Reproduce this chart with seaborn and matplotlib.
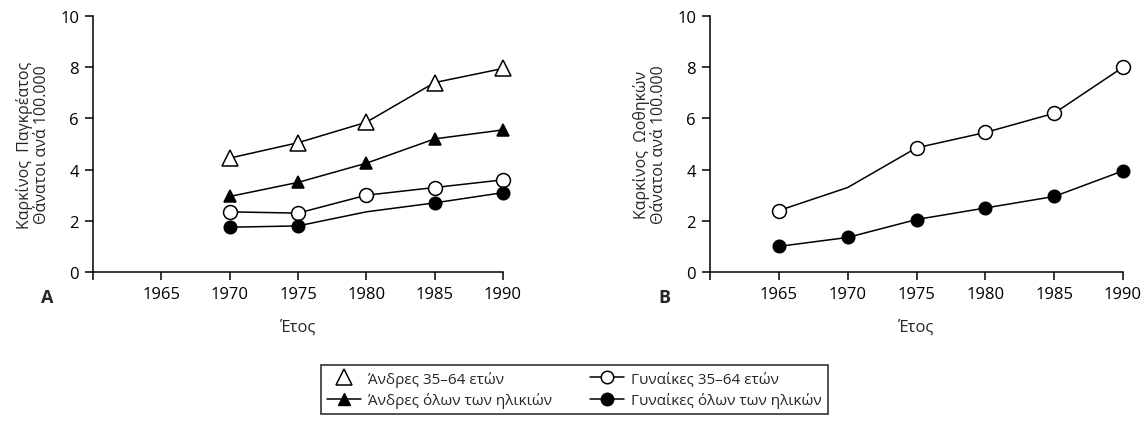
import matplotlib
matplotlib.use("Agg")
import matplotlib.pyplot as plt
from matplotlib.lines import Line2D
import seaborn as sns
import pandas as pd

# ---- data ----
years_a = [1970, 1975, 1980, 1985, 1990]
men_35_64_a = [4.45, 5.05, 5.85, 7.4, 7.95]
men_all_a = [2.95, 3.5, 4.25, 5.2, 5.55]
women_35_64_a = [2.35, 2.3, 3.0, 3.3, 3.6]
women_all_a = [1.75, 1.8, 2.35, 2.7, 3.1]

years_b = [1965, 1970, 1975, 1980, 1985, 1990]
women_35_64_b = [2.4, 3.3, 4.85, 5.45, 6.2, 8.0]
women_all_b = [1.0, 1.35, 2.05, 2.5, 2.95, 3.95]

xticks = [1960, 1965, 1970, 1975, 1980, 1985, 1990]
xticklabels = ["", "1965", "1970", "1975", "1980", "1985", "1990"]
yticks = [0, 2, 4, 6, 8, 10]

ylabel_a = "Καρκίνος  Παγκρέατος\nΘάνατοι ανά 100.000"
ylabel_b = "Καρκίνος  Ωοθηκών\nΘάνατοι ανά 100.000"
xlabel = "Έτος"
legend_labels = ["Άνδρες 35–64 ετών", "Άνδρες όλων των ηλικιών",
                 "Γυναίκες 35–64 ετών", "Γυναίκες όλων των ηλικών"]

sns.set_theme(style="ticks")
plt.rcParams['font.family'] = ['Open Sans', 'DejaVu Sans']

fig = plt.figure(figsize=(11.45, 4.27), dpi=100)
ax_a = fig.add_axes([93/1145, 1-273/427, 410/1145, 256/427])
ax_b = fig.add_axes([710/1145, 1-273/427, 413/1145, 256/427])

lw = 1.1
mew = 1.1

def draw(ax, x, y, marker, filled, ms, markevery=None):
    df = pd.DataFrame({"x": x, "y": y})
    kw = dict(color="black", linewidth=lw, marker=marker, markersize=ms,
              markerfacecolor="black" if filled else "white",
              markeredgecolor="black", markeredgewidth=mew)
    if markevery is not None:
        kw["markevery"] = markevery
    sns.lineplot(data=df, x="x", y="y", ax=ax, **kw)

draw(ax_a, years_a, men_35_64_a, "^", False, 11)
draw(ax_a, years_a, men_all_a, "^", True, 9)
draw(ax_a, years_a, women_35_64_a, "o", False, 10)
draw(ax_a, years_a, women_all_a, "o", True, 9, markevery=[0, 1, 3, 4])

draw(ax_b, years_b, women_35_64_b, "o", False, 10, markevery=[0, 2, 3, 4, 5])
draw(ax_b, years_b, women_all_b, "o", True, 9)

for ax, ylab in [(ax_a, ylabel_a), (ax_b, ylabel_b)]:
    ax.set_xlim(1960, 1990)
    ax.set_ylim(0, 10)
    ax.set_xticks(xticks)
    ax.set_xticklabels(xticklabels)
    ax.set_yticks(yticks)
    sns.despine(ax=ax)
    for s in ["left", "bottom"]:
        ax.spines[s].set_linewidth(1.1)
        ax.spines[s].set_color("black")
    ax.tick_params(axis="both", direction="out", length=6, width=1.1,
                   colors="black", labelsize=12, pad=4)
    ax.set_xlabel(xlabel, fontsize=12, labelpad=12)
    ax.set_ylabel(ylab, fontsize=11.5, linespacing=1.05)
    ax.yaxis.set_label_coords(-0.105, 0.5)
    for line in ax.lines:
        line.set_clip_on(False)

fig.text(47/1145, 1-298/427, "A", fontsize=13, fontweight="bold",
         ha="center", va="center")
fig.text(664/1145, 1-298/427, "B", fontsize=13, fontweight="bold",
         ha="center", va="center")

handles = [
    Line2D([], [], color="black", linestyle="none", marker="^", markersize=11,
           markerfacecolor="white", markeredgecolor="black", markeredgewidth=mew),
    Line2D([], [], color="black", linewidth=lw, marker="^", markersize=9,
           markerfacecolor="black", markeredgecolor="black"),
    Line2D([], [], color="black", linewidth=lw, marker="o", markersize=9,
           markerfacecolor="white", markeredgecolor="black", markeredgewidth=mew),
    Line2D([], [], color="black", linewidth=lw, marker="o", markersize=9,
           markerfacecolor="black", markeredgecolor="black"),
]
leg = fig.legend(handles, legend_labels, ncol=2, loc="center",
                 bbox_to_anchor=(321/1145, 2/427, 507/1145, 69/427),
                 mode="expand", frameon=True, fancybox=False, fontsize=11,
                 handlelength=2.2, handletextpad=0.5, columnspacing=2.0,
                 labelspacing=0.35, borderpad=0.4, borderaxespad=0)
leg.get_frame().set_edgecolor("black")
leg.get_frame().set_linewidth(1.2)
# nudge legend contents slightly right to match the reference spacing
leg._legend_box.set_offset  # keep default layout

fig.savefig("out.png", dpi=100)
